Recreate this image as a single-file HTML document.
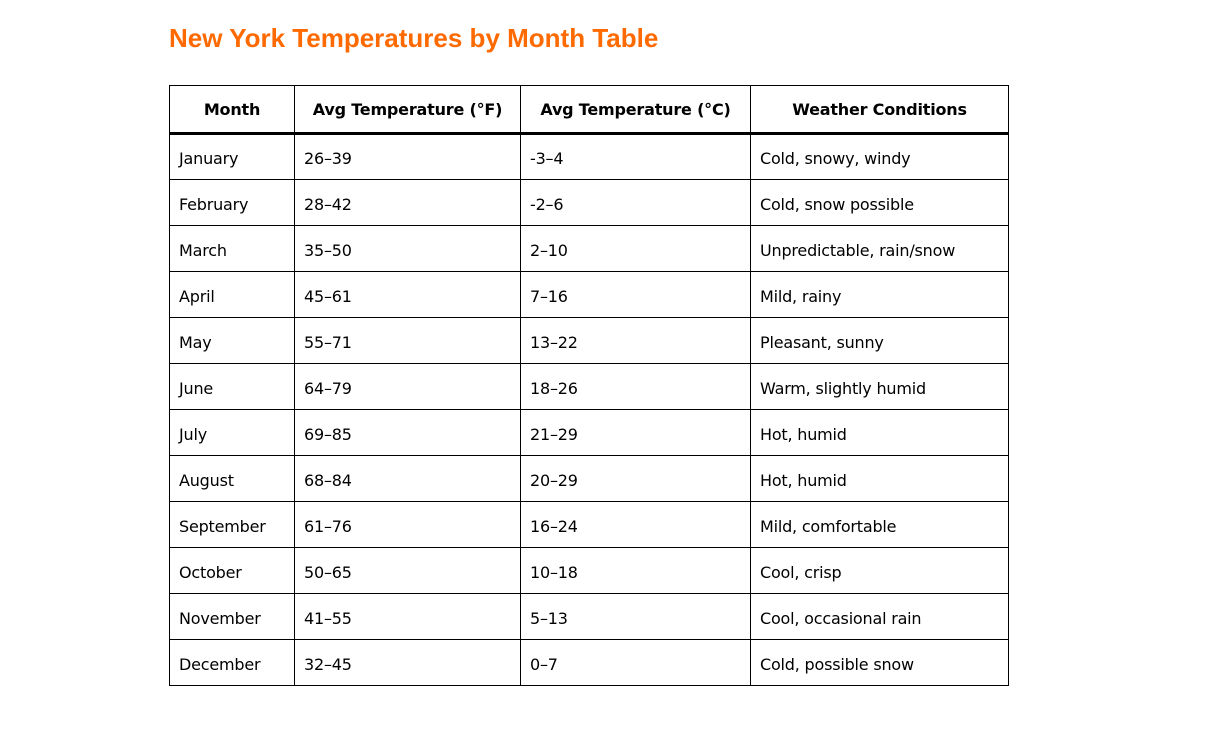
<!DOCTYPE html>
<html><head><meta charset="utf-8"><style>
html,body{margin:0;padding:0;background:#fff;width:1205px;height:737px;overflow:hidden}
body{font-family:"DejaVu Sans","Liberation Sans",sans-serif;color:#000}
h1{position:absolute;left:169px;top:23px;margin:0;font-size:26px;font-weight:bold;color:#ff6a00;letter-spacing:0px;font-family:"Liberation Sans",sans-serif}
table{position:absolute;left:169px;top:85px;border-collapse:collapse;table-layout:fixed;width:839px;font-size:16px}
td,th{border:1px solid #000;height:46px;padding:3px 0 0 9px;box-sizing:border-box;text-align:left;font-weight:normal;letter-spacing:-0.2px}
th{text-align:center;font-weight:bold;padding:0;border-bottom:3px solid #000;height:48px}
</style></head><body>
<h1>New York Temperatures by Month Table</h1>
<table>
<colgroup><col style="width:125px"><col style="width:226px"><col style="width:230px"><col style="width:258px"></colgroup>
<tr><th>Month</th><th>Avg Temperature (°F)</th><th>Avg Temperature (°C)</th><th>Weather Conditions</th></tr>
<tr><td>January</td><td>26–39</td><td>-3–4</td><td>Cold, snowy, windy</td></tr>
<tr><td>February</td><td>28–42</td><td>-2–6</td><td>Cold, snow possible</td></tr>
<tr><td>March</td><td>35–50</td><td>2–10</td><td>Unpredictable, rain/snow</td></tr>
<tr><td>April</td><td>45–61</td><td>7–16</td><td>Mild, rainy</td></tr>
<tr><td>May</td><td>55–71</td><td>13–22</td><td>Pleasant, sunny</td></tr>
<tr><td>June</td><td>64–79</td><td>18–26</td><td>Warm, slightly humid</td></tr>
<tr><td>July</td><td>69–85</td><td>21–29</td><td>Hot, humid</td></tr>
<tr><td>August</td><td>68–84</td><td>20–29</td><td>Hot, humid</td></tr>
<tr><td>September</td><td>61–76</td><td>16–24</td><td>Mild, comfortable</td></tr>
<tr><td>October</td><td>50–65</td><td>10–18</td><td>Cool, crisp</td></tr>
<tr><td>November</td><td>41–55</td><td>5–13</td><td>Cool, occasional rain</td></tr>
<tr><td>December</td><td>32–45</td><td>0–7</td><td>Cold, possible snow</td></tr>
</table>
</body></html>
